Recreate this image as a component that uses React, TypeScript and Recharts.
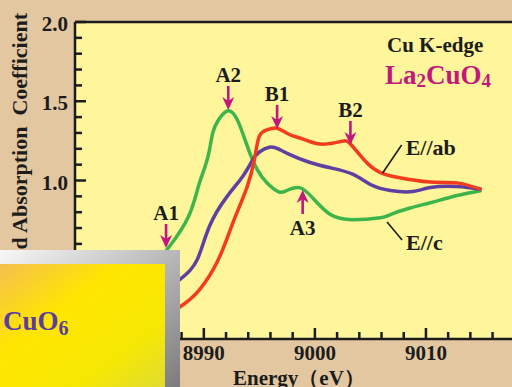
import React from 'react';
import { LineChart, Line, XAxis, YAxis, CartesianGrid, ReferenceLine, ReferenceDot } from 'recharts';

// ---- data (Energy in eV, normalized absorption) ----
const ecEnergy = [8985.0, 8986.8, 8988.6, 8989.5, 8990.1, 8990.5, 8990.8, 8991.3, 8992.2, 8993.1, 8994.0, 8994.8, 8995.7, 8996.7, 8997.4, 8998.6, 8999.8, 9001.4, 9003.4, 9005.9, 9006.8, 9008.5, 9010.4, 9012.8, 9015.0];
const ecMu = [0.42, 0.574, 0.77, 0.96, 1.085, 1.19, 1.30, 1.38, 1.44, 1.37, 1.20, 1.07, 0.984, 0.93, 0.935, 0.955, 0.89, 0.785, 0.753, 0.765, 0.785, 0.825, 0.86, 0.905, 0.937];

const abEnergy = [8985.0, 8987.8, 8989.6, 8991.3, 8992.6, 8993.9, 8994.6, 8995.0, 8995.7, 8996.6, 8997.7, 8999.0, 9000.5, 9002.3, 9003.2, 9004.7, 9005.9, 9007.4, 9010.4, 9012.8, 9015.0];
const abMu = [0.08, 0.20, 0.31, 0.50, 0.73, 0.96, 1.15, 1.28, 1.32, 1.33, 1.29, 1.26, 1.23, 1.245, 1.23, 1.11, 1.05, 1.02, 0.99, 0.985, 0.943];

const midEnergy = [8985.0, 8987.8, 8989.4, 8990.5, 8992.1, 8993.5, 8994.4, 8995.0, 8995.9, 8996.7, 8997.7, 8999.5, 9001.4, 9003.4, 9005.0, 9006.8, 9008.8, 9010.4, 9012.8, 9015.0];
const midMu = [0.22, 0.373, 0.50, 0.71, 0.90, 1.025, 1.13, 1.18, 1.21, 1.20, 1.165, 1.115, 1.08, 1.04, 0.975, 0.937, 0.93, 0.956, 0.962, 0.943];

const xTicks = [8980, 8982, 8984, 8986, 8988, 8990, 8992, 8994, 8996, 8998, 9000, 9002, 9004, 9006, 9008, 9010, 9012, 9014, 9016, 9018];
const xLabels = [8980, 8990, 9000, 9010];
const yTicks = [0, 0.1, 0.2, 0.3, 0.4, 0.5, 0.6, 0.7, 0.8, 0.9, 1.0, 1.1, 1.2, 1.3, 1.4, 1.5, 1.6, 1.7, 1.8, 1.9, 2.0];
const yLabels = ['0.0', '0.5', '1.0', '1.5', '2.0'];

const peakNames = ['A1', 'A2', 'B1', 'B2', 'A3'];
const peakEnergy = [8986.6, 8992.2, 8996.6, 9003.2, 8998.9];
const peakMu = [0.574, 1.445, 1.325, 1.224, 0.94];
const peakDir = ['down', 'down', 'down', 'down', 'up'];

const curveNames = ['E//ab', 'E//c'];
const curveEnergy = [9006.1, 9006.5];
const curveMu = [1.047, 0.738];
const curveSide = ['above', 'below'];

const zip = (e: number[], m: number[]) => e.map((E, i) => ({ E, v: m[i] }));
const ecData = zip(ecEnergy, ecMu);
const abData = zip(abEnergy, abMu);
const midData = zip(midEnergy, midMu);

const FONT = '"Liberation Serif", "Times New Roman", serif';
const MAGENTA = '#C2187C';
const INK = '#1c1c1c';

const XTick = (props: any) => {
  const { x, y, payload } = props;
  const val = payload.value;
  const major = xLabels.includes(val);
  return (
    <g>
      <line x1={x} x2={x} y1={y} y2={y - (major ? 11 : 7)} stroke={INK} strokeWidth={2.5} />
      {major && (
        <text x={x} y={y + 21} textAnchor="middle" fontFamily={FONT} fontWeight="bold" fontSize={21} fill={INK}>
          {val}
        </text>
      )}
    </g>
  );
};

const YTick = (props: any) => {
  const { x, y, payload } = props;
  const lab = Number(payload.value).toFixed(1);
  const major = yLabels.includes(lab);
  return (
    <g>
      <line x1={x} x2={x + (major ? 11 : 7)} y1={y} y2={y} stroke={INK} strokeWidth={2.5} />
      {major && (
        <text x={x - 7} y={y + 9} textAnchor="end" fontFamily={FONT} fontWeight="bold" fontSize={21} fill={INK}>
          {lab}
        </text>
      )}
    </g>
  );
};

const PeakMark = ({ cx, cy, name, dir }: any) => {
  const len = 24;
  if (dir === 'down') {
    return (
      <g>
        <line x1={cx} x2={cx} y1={cy - len} y2={cy - 9} stroke={MAGENTA} strokeWidth={2.6} />
        <polygon points={`${cx - 6},${cy - 13} ${cx},${cy - 9} ${cx + 6},${cy - 13} ${cx},${cy}`} fill={MAGENTA} />
        <text x={cx} y={cy - len - 4} textAnchor="middle" fontFamily={FONT} fontWeight="bold" fontSize={21} fill={INK}>
          {name}
        </text>
      </g>
    );
  }
  return (
    <g>
      <line x1={cx} x2={cx} y1={cy + 9} y2={cy + len} stroke={MAGENTA} strokeWidth={2.6} />
      <polygon points={`${cx - 6},${cy + 13} ${cx},${cy + 9} ${cx + 6},${cy + 13} ${cx},${cy}`} fill={MAGENTA} />
      <text x={cx} y={cy + len + 21} textAnchor="middle" fontFamily={FONT} fontWeight="bold" fontSize={21} fill={INK}>
        {name}
      </text>
    </g>
  );
};

const CurveMark = ({ cx, cy, name, side }: any) => {
  if (side === 'above') {
    return (
      <g>
        <line x1={cx} y1={cy} x2={cx + 19} y2={cy - 28} stroke={INK} strokeWidth={1.6} />
        <text x={cx + 23} y={cy - 18} fontFamily={FONT} fontWeight="bold" fontSize={22} fill={INK}>{name}</text>
      </g>
    );
  }
  return (
    <g>
      <line x1={cx} y1={cy} x2={cx + 15} y2={cy + 18} stroke={INK} strokeWidth={1.6} />
      <text x={cx + 19} y={cy + 28} fontFamily={FONT} fontWeight="bold" fontSize={22} fill={INK}>{name}</text>
    </g>
  );
};

export default function App() {
  return (
    <div style={{ position: 'absolute', left: 0, top: 0, width: 512, height: 387, overflow: 'hidden', background: '#E3C7A0' }}>
      <LineChart width={537} height={387} margin={{ top: 22, right: 0, bottom: 0, left: 0 }}>
        <CartesianGrid horizontal={false} vertical={false} fill="#FFF59A" fillOpacity={1} stroke="none" />
        <XAxis
          dataKey="E"
          type="number"
          domain={[8978.4, 9020]}
          allowDataOverflow
          ticks={xTicks}
          interval={0}
          height={48}
          tickSize={0}
          tickMargin={0}
          tickLine={false}
          axisLine={{ stroke: INK, strokeWidth: 2.5 }}
          tick={<XTick />}
        />
        <YAxis
          type="number"
          domain={[0, 2]}
          allowDataOverflow
          ticks={yTicks}
          interval={0}
          width={75}
          tickSize={0}
          tickMargin={0}
          tickLine={false}
          axisLine={{ stroke: INK, strokeWidth: 2.5 }}
          tick={<YTick />}
        />
        <ReferenceLine y={2} stroke={INK} strokeWidth={2.5} />
        <Line data={ecData} dataKey="v" type="natural" stroke="#3DB54A" strokeWidth={3.5} dot={false} isAnimationActive={false} />
        <Line data={midData} dataKey="v" type="natural" stroke="#5E3FA2" strokeWidth={3.5} dot={false} isAnimationActive={false} />
        <Line data={abData} dataKey="v" type="natural" stroke="#F23B1F" strokeWidth={3.5} dot={false} isAnimationActive={false} />
        {peakNames.map((n, i) => (
          <ReferenceDot
            key={n}
            x={peakEnergy[i]}
            y={peakMu[i]}
            r={0}
            shape={(p: any) => <PeakMark cx={p.cx} cy={p.cy} name={n} dir={peakDir[i]} />}
          />
        ))}
        {curveNames.map((n, i) => (
          <ReferenceDot
            key={n}
            x={curveEnergy[i]}
            y={curveMu[i]}
            r={0}
            shape={(p: any) => <CurveMark cx={p.cx} cy={p.cy} name={n} side={curveSide[i]} />}
          />
        ))}
      </LineChart>
      <svg width={512} height={387} style={{ position: 'absolute', left: 0, top: 0, pointerEvents: 'none' }}>
        <defs>
          <linearGradient id="frameGrad" x1="0" y1="0" x2="1" y2="1">
            <stop offset="0" stopColor="#FFFFFF" />
            <stop offset="0.5" stopColor="#B8B8B8" />
            <stop offset="1" stopColor="#767676" />
          </linearGradient>
          <linearGradient id="fillGrad" x1="0" y1="0" x2="1" y2="1">
            <stop offset="0" stopColor="#F3B95E" />
            <stop offset="0.38" stopColor="#FFE600" />
            <stop offset="0.7" stopColor="#F6E804" />
            <stop offset="1" stopColor="#DAD93C" />
          </linearGradient>
        </defs>
        <text transform="translate(27, 13) rotate(-90)" textAnchor="end" fontFamily={FONT} fontWeight="bold" fontSize={22} fill={INK} xmlSpace="preserve">
          Normalized Absorption  Coefficient
        </text>
        <text x={233} y={385} fontFamily={FONT} fontWeight="bold" fontSize={21} fill={INK}>Energy（eV）</text>
        <text x={387} y={52} fontFamily={FONT} fontWeight="bold" fontSize={21} fill={INK}>Cu K-edge</text>
        <text x={385} y={84} fontFamily={FONT} fontWeight="bold" fontSize={27} fill={MAGENTA}>
          La<tspan fontSize={19} dy={3}>2</tspan><tspan dy={-3}>CuO</tspan><tspan fontSize={19} dy={3}>4</tspan>
        </text>
        <rect x={-20} y={250} width={200} height={150} fill="url(#frameGrad)" />
        <rect x={-20} y={264} width={185} height={140} fill="url(#fillGrad)" />
        <text x={3} y={330} fontFamily={FONT} fontWeight="bold" fontSize={27} fill="#5A3D9E">
          CuO<tspan fontSize={20} dy={5}>6</tspan>
        </text>
      </svg>
    </div>
  );
}
